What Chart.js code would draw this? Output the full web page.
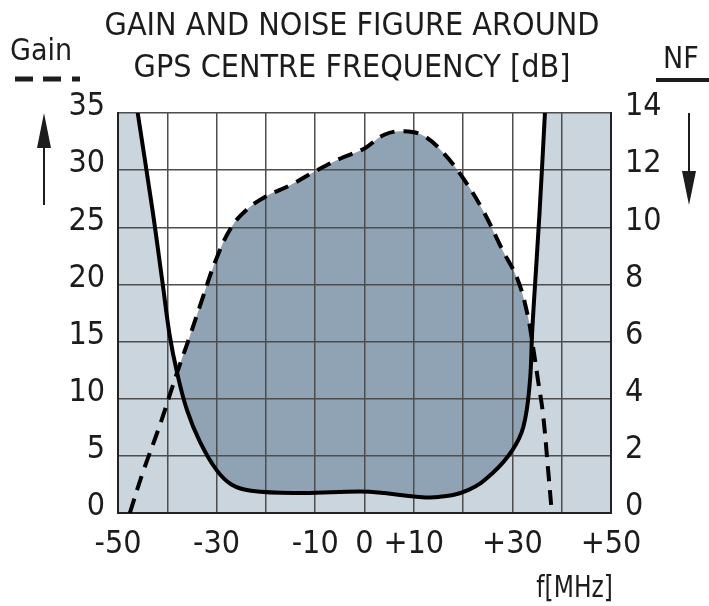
<!DOCTYPE html>
<html>
<head>
<meta charset="utf-8">
<script src="https://cdn.jsdelivr.net/npm/chart.js@4/dist/chart.umd.min.js"></script>
<style>
  html, body { margin: 0; padding: 0; background: #ffffff; }
  #wrap { width: 709px; height: 606px; position: relative; }
</style>
</head>
<body>
<div id="wrap"><canvas id="c"></canvas></div>
<script>
// ---- data ----
const gainFreq = [-47.6, -45, -41.5, -38, -35.4, -33, -30, -27, -24, -20, -15, -10, -5, 0, 4, 8, 12, 16, 20, 24, 28, 31, 33, 34.2, 35.2, 36.2, 37.2, 38];
const gainDb   = [0, 3.5, 7.7, 12.3, 15.5, 18.6, 22.3, 25, 26.5, 27.7, 28.7, 29.9, 31, 31.9, 33.1, 33.4, 33, 31.5, 29.3, 26.5, 23, 20.5, 17.5, 14.5, 11.6, 8.7, 4, 0];

const nfFreq = [-50, -46, -43, -41, -39.5, -38, -36, -33.4, -30, -27, -23, -13, -1, 4, 10, 15, 21, 26, 30, 32.2, 33.5, 34, 34.3, 35.5, 36.6, 38, 50];
const nfDb   = [18.7, 14, 10.6, 8.1, 6.2, 4.9, 3.6, 2.5, 1.5, 1.0, 0.78, 0.7, 0.75, 0.7, 0.58, 0.56, 0.8, 1.4, 2.2, 3.0, 4.5, 6.3, 7.2, 10.5, 14, 18.5, 55];

const xTickLabels = { '-50': '-50', '-30': '-30', '-10': '-10', '0': '0', '10': '+10', '30': '+30', '50': '+50' };
const titleLines = ['GAIN AND NOISE FIGURE AROUND', 'GPS CENTRE FREQUENCY [dB]'];
const gainLabel = 'Gain';
const nfLabel = 'NF';
const xAxisLabel = 'f[MHz]';

// ---- styles ----
const FONT = '"DejaVu Sans Condensed", "DejaVu Sans", sans-serif';
const TEXT = '#1c1c1c';
const LIGHT = '#cbd5de';
const DARK = '#8fa3b4';
const GRID = '#4d4d4d';

const gainPts = gainFreq.map((f, i) => ({ x: f, y: gainDb[i] }));
const nfPts = nfFreq.map((f, i) => ({ x: f, y: nfDb[i] }));

const annotations = {
  id: 'annotations',
  afterDraw(chart) {
    const ctx = chart.ctx;
    ctx.save();
    ctx.fillStyle = TEXT;
    ctx.strokeStyle = TEXT;
    ctx.textBaseline = 'alphabetic';
    // title
    ctx.font = '32px ' + FONT;
    ctx.textAlign = 'center';
    ctx.fillText(titleLines[0], 352, 35);
    ctx.fillText(titleLines[1], 352, 77);
    // Gain label + dashed key
    ctx.font = '30px ' + FONT;
    ctx.textAlign = 'left';
    ctx.fillText(gainLabel, 10, 60);
    ctx.lineWidth = 5;
    ctx.lineCap = 'butt';
    [[15, 33], [43, 61], [72, 80]].forEach(([a, b]) => {
      ctx.beginPath(); ctx.moveTo(a, 79); ctx.lineTo(b, 79); ctx.stroke();
    });
    // NF label + solid key
    ctx.font = '30px ' + FONT;
    ctx.fillText(nfLabel, 663, 68);
    ctx.lineWidth = 4;
    ctx.beginPath(); ctx.moveTo(656, 80); ctx.lineTo(709, 80); ctx.stroke();
    // up arrow (gain)
    ctx.lineWidth = 2;
    ctx.beginPath(); ctx.moveTo(44, 205); ctx.lineTo(44, 140); ctx.stroke();
    ctx.beginPath(); ctx.moveTo(44, 113); ctx.lineTo(37, 148); ctx.lineTo(51, 148); ctx.closePath(); ctx.fill();
    // down arrow (NF)
    ctx.beginPath(); ctx.moveTo(689, 113); ctx.lineTo(689, 178); ctx.stroke();
    ctx.beginPath(); ctx.moveTo(689, 205); ctx.lineTo(682, 171); ctx.lineTo(696, 171); ctx.closePath(); ctx.fill();
    // x axis unit (slightly condensed like the reference lettering)
    ctx.font = '31px ' + FONT;
    ctx.textAlign = 'right';
    ctx.translate(613, 597);
    ctx.scale(0.84, 1);
    ctx.fillText(xAxisLabel, 0, 0);
    ctx.restore();
  }
};

const tickFont = { family: FONT, size: 32 };

new Chart(document.getElementById('c'), {
  type: 'line',
  data: {
    datasets: [
      {
        label: 'Gain',
        data: gainPts,
        yAxisID: 'y',
        borderColor: '#000',
        borderWidth: 4,
        borderDash: [15, 9],
        pointRadius: 0,
        tension: 0.4,
        fill: { target: 1, above: DARK, below: 'rgba(0,0,0,0)' }
      },
      {
        label: 'NF',
        data: nfPts,
        yAxisID: 'y2',
        borderColor: '#000',
        borderWidth: 4,
        pointRadius: 0,
        tension: 0.4,
        backgroundColor: LIGHT,
        fill: { target: 'start', above: LIGHT, below: LIGHT }
      }
    ]
  },
  options: {
    responsive: true,
    maintainAspectRatio: false,
    animation: false,
    layout: { padding: { top: 113, left: 0, right: 0, bottom: 0 } },
    plugins: {
      legend: { display: false },
      title: { display: false },
      tooltip: { enabled: false },
      filler: { drawTime: 'beforeDraw' }
    },
    scales: {
      x: {
        type: 'linear',
        min: -50, max: 50,
        afterFit(s) { s.height = 93; },
        ticks: {
          stepSize: 10,
          autoSkip: false,
          maxRotation: 0,
          padding: 12,
          color: TEXT,
          font: tickFont,
          callback: v => (xTickLabels[String(v)] !== undefined ? xTickLabels[String(v)] : '')
        },
        grid: { color: GRID, lineWidth: 1.5, drawTicks: false },
        border: { color: '#222', width: 2 }
      },
      y: {
        position: 'left',
        min: 0, max: 35,
        afterFit(s) { s.width = 118; },
        ticks: { stepSize: 5, padding: 13, labelOffset: -6, color: TEXT, font: tickFont },
        grid: { color: GRID, lineWidth: 1.5, drawTicks: false },
        border: { color: '#222', width: 2 }
      },
      y2: {
        position: 'right',
        min: 0, max: 14,
        afterFit(s) { s.width = 98; },
        ticks: { stepSize: 2, padding: 14, labelOffset: -6, color: TEXT, font: tickFont },
        grid: { drawOnChartArea: false, drawTicks: false },
        border: { color: '#222', width: 2 }
      }
    }
  },
  plugins: [annotations]
});
</script>
</body>
</html>
